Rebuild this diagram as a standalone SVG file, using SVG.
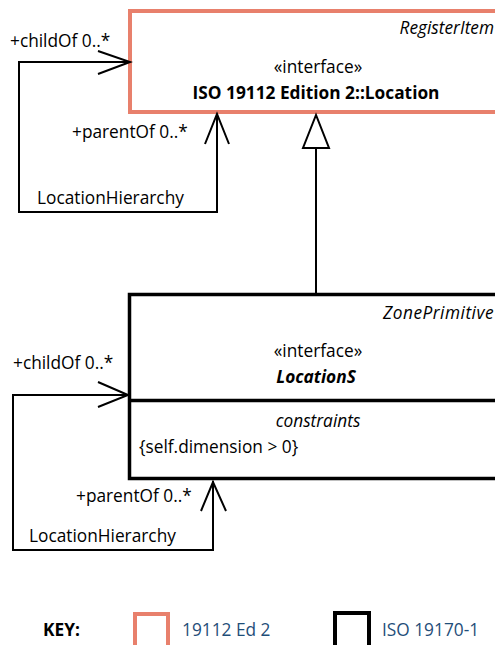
<svg xmlns="http://www.w3.org/2000/svg" width="495" height="645" viewBox="0 0 495 645">
  <style>
    text { font-family: "Open Sans", "Liberation Sans", sans-serif; font-size: 17.3px; fill: #000; }
    .it { font-style: italic; }
    .b { font-weight: bold; }
    .mid { text-anchor: middle; }
    .end { text-anchor: end; }
    .key { fill: #1F4E79; }
    .line { fill: none; stroke: #000; stroke-width: 2; }
    .head { fill: none; stroke: #000; stroke-width: 2; }
  </style>
  <rect x="0" y="0" width="495" height="645" fill="#fff"/>

  <!-- Location (ISO 19112 Ed 2) -->
  <g id="location">
    <rect x="130" y="11" width="380" height="101" fill="#fff" stroke="#E8806C" stroke-width="4"/>
    <text class="it end" x="494" y="34">RegisterItem</text>
    <text class="mid" x="318" y="73">«interface»</text>
    <text class="b mid" x="316" y="99">ISO 19112 Edition 2::Location</text>
  </g>

  <!-- LocationS (ISO 19170-1) -->
  <g id="locations">
    <rect x="129.5" y="294.5" width="380" height="184" fill="#fff" stroke="#000" stroke-width="3.5"/>
    <line x1="129.5" y1="400.5" x2="495" y2="400.5" stroke="#000" stroke-width="3.5"/>
    <text class="it end" x="494" y="319" letter-spacing="0.5">ZonePrimitive</text>
    <text class="mid" x="318" y="357">«interface»</text>
    <text class="b it mid" x="316" y="383">LocationS</text>
    <text class="it mid" x="318" y="427">constraints</text>
    <text x="139" y="453">{self.dimension &gt; 0}</text>
  </g>

  <!-- connectors -->
  <g id="connectors">
    <!-- self association on Location -->
    <polyline class="line" points="130,62 19,62 19,212 217,212 217,114"/>
    <polyline class="head" points="98,51 130,62 98,74"/>
    <polyline class="head" points="205,144 217,114 229,144"/>
    <text x="10" y="47">+childOf 0..*</text>
    <text x="72" y="138">+parentOf 0..*</text>
    <text x="37" y="204">LocationHierarchy</text>

    <!-- generalization LocationS -> Location -->
    <line class="line" x1="316" y1="148" x2="316" y2="293"/>
    <polygon points="316,115 303,148 329,148" fill="#fff" stroke="#000" stroke-width="2"/>

    <!-- self association on LocationS -->
    <polyline class="line" points="129,395 13,395 13,550 213,550 213,481"/>
    <polyline class="head" points="98,382 128,395 98,407"/>
    <polyline class="head" points="201,511 213,482 226,511"/>
    <text x="13" y="369">+childOf 0..*</text>
    <text x="76" y="502">+parentOf 0..*</text>
    <text x="29" y="542">LocationHierarchy</text>
  </g>

  <!-- key -->
  <g id="key">
    <text class="b" x="43" y="636">KEY:</text>
    <rect x="135" y="614" width="33" height="40" fill="#fff" stroke="#E8806C" stroke-width="4"/>
    <text class="key" x="182" y="636">19112 Ed 2</text>
    <rect x="335" y="613" width="34" height="40" fill="#fff" stroke="#000" stroke-width="4"/>
    <text class="key" x="382" y="636">ISO 19170-1</text>
  </g>
</svg>
